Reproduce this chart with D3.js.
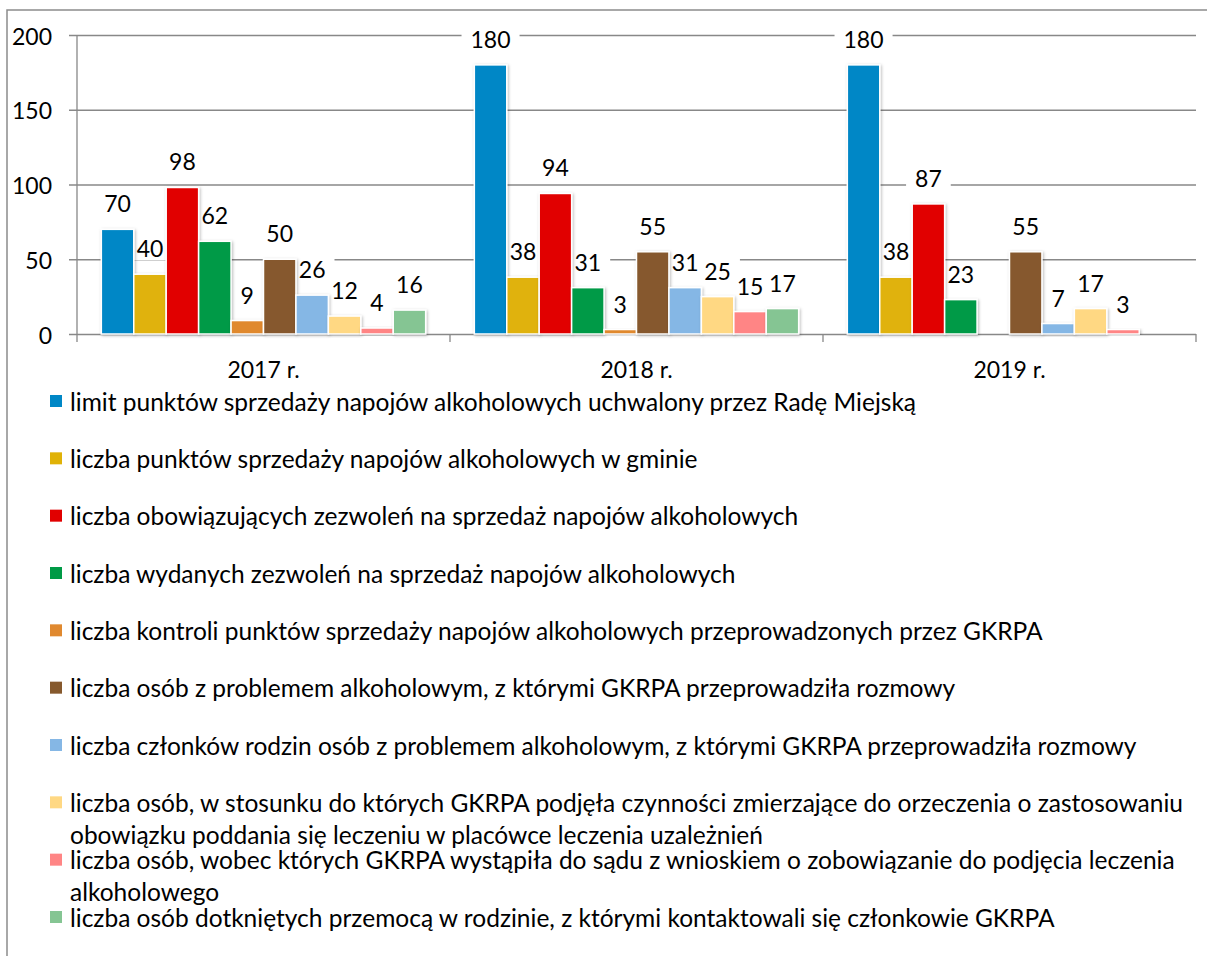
<!DOCTYPE html>
<html>
<head>
<meta charset="utf-8">
<title>GKRPA 2017-2019</title>
<script src="https://d3js.org/d3.v7.min.js"></script>
<style>
  body { margin: 0; background: #fff; }
  svg { display: block; font-family: Lato, "Open Sans", sans-serif; }
</style>
</head>
<body>
<div id="chart"></div>
<script>
// categories
var years = ["2017 r.", "2018 r.", "2019 r."];

// series names (\n marks where the original legend wraps)
var seriesNames = [
    "limit punktów sprzedaży napojów alkoholowych uchwalony przez Radę Miejską",
    "liczba punktów sprzedaży napojów alkoholowych w gminie",
    "liczba obowiązujących zezwoleń na sprzedaż napojów alkoholowych",
    "liczba wydanych zezwoleń na sprzedaż napojów alkoholowych",
    "liczba kontroli punktów sprzedaży napojów alkoholowych przeprowadzonych przez GKRPA",
    "liczba osób z problemem alkoholowym, z którymi GKRPA przeprowadziła rozmowy",
    "liczba członków rodzin osób z problemem alkoholowym, z którymi GKRPA przeprowadziła rozmowy",
    "liczba osób, w stosunku do których GKRPA podjęła czynności zmierzające do orzeczenia o zastosowaniu\nobowiązku poddania się leczeniu w placówce leczenia uzależnień",
    "liczba osób, wobec których GKRPA wystąpiła do sądu z wnioskiem o zobowiązanie do podjęcia leczenia\nalkoholowego",
    "liczba osób dotkniętych przemocą w rodzinie, z którymi kontaktowali się członkowie GKRPA"
];

// values per year, one entry per series (null = no bar)
var values2017 = [70, 40, 98, 62, 9, 50, 26, 12, 4, 16];
var values2018 = [180, 38, 94, 31, 3, 55, 31, 25, 15, 17];
var values2019 = [180, 38, 87, 23, null, 55, 7, 17, 3, null];

var colors = ["#0087c6", "#e0b207", "#e10000", "#009a46", "#e0892f",
              "#86592d", "#85b7e5", "#ffd883", "#ff8585", "#85c593"];

var yTicks = [0, 50, 100, 150, 200];

var valuesByYear = [values2017, values2018, values2019];

var W = 1207, H = 956;
var plot = {left: 77, right: 1196, top: 35, bottom: 334};
var fontSize = 23;
var legendFontSize = 24.5;
var gridColor = "#888888";

var svg = d3.select("#chart").append("svg")
    .attr("width", W)
    .attr("height", H);

var defs = svg.append("defs");
var shadow = defs.append("filter").attr("id", "shadow")
    .attr("x", "-20%").attr("y", "-20%").attr("width", "140%").attr("height", "140%");
shadow.append("feDropShadow")
    .attr("dx", 1).attr("dy", 1)
    .attr("stdDeviation", 1.4)
    .attr("flood-color", "#000")
    .attr("flood-opacity", 0.28);

// frame (only top and left edges visible)
svg.append("path")
    .attr("d", "M7," + H + "V10H" + W)
    .attr("fill", "none")
    .attr("stroke", "#8c8c8c")
    .attr("stroke-width", 1.5);

var x0 = d3.scaleBand()
    .domain(years)
    .range([plot.left, plot.right])
    .padding(0);

var x1 = d3.scaleBand()
    .domain(d3.range(seriesNames.length))
    .range([0, x0.bandwidth()])
    .paddingInner(0)
    .paddingOuter(0.75);

var y = d3.scaleLinear()
    .domain([0, 200])
    .range([plot.bottom, plot.top]);

// y axis with gridlines
var yAxis = svg.append("g")
    .attr("transform", "translate(" + plot.left + ",0)")
    .call(d3.axisLeft(y)
        .tickValues(yTicks)
        .tickSize(-(plot.right - plot.left))
        .tickPadding(25));
yAxis.select(".domain").remove();
yAxis.selectAll(".tick line")
    .attr("x1", -8)
    .attr("stroke", gridColor)
    .attr("stroke-width", 1.3);
yAxis.selectAll(".tick text")
    .attr("dy", null)
    .attr("dominant-baseline", "central")
    .style("font-size", fontSize + "px")
    .style("font-family", "Lato, sans-serif")
    .attr("fill", "#000");

svg.append("line")
    .attr("x1", plot.left).attr("x2", plot.left)
    .attr("y1", plot.top).attr("y2", plot.bottom + 8)
    .attr("stroke", gridColor)
    .attr("stroke-width", 1.3);

// x axis: labels centred, ticks on category boundaries
var xAxis = svg.append("g")
    .attr("transform", "translate(0," + plot.bottom + ")")
    .call(d3.axisBottom(x0).tickSize(0).tickPadding(0));
xAxis.select(".domain").remove();
xAxis.selectAll(".tick text")
    .attr("y", 35)
    .attr("dy", null)
    .attr("dominant-baseline", "central")
    .style("font-size", fontSize + "px")
    .style("font-family", "Lato, sans-serif")
    .attr("fill", "#000");

svg.append("g").selectAll("line")
    .data(years)
    .join("line")
        .attr("x1", function(d) { return x0(d) + x0.bandwidth(); })
        .attr("x2", function(d) { return x0(d) + x0.bandwidth(); })
        .attr("y1", plot.bottom)
        .attr("y2", plot.bottom + 8)
        .attr("stroke", gridColor)
        .attr("stroke-width", 1.3);

// flatten into points
var points = [];
seriesNames.forEach(function(name, s) {
    years.forEach(function(yr, i) {
        var v = valuesByYear[i][s];
        if (v != null) points.push({s: s, year: yr, value: v});
    });
});

function cx(d) { return x0(d.year) + x1(d.s) + x1.bandwidth() / 2; }
function ly(d) { return y(d.value) - 26; }

// label backgrounds hide the gridlines, but sit behind the bars
var bgLayer = svg.append("g");
var barLayer = svg.append("g");
var textLayer = svg.append("g");

barLayer.selectAll("rect")
    .data(points)
    .join("rect")
        .attr("x", function(d) { return x0(d.year) + x1(d.s); })
        .attr("y", function(d) { return y(d.value); })
        .attr("width", x1.bandwidth())
        .attr("height", function(d) { return y(0) - y(d.value); })
        .attr("fill", function(d) { return colors[d.s]; })
        .attr("stroke", "#fff")
        .attr("stroke-width", 1.5)
        .attr("filter", "url(#shadow)");

var txt = textLayer.selectAll("text")
    .data(points)
    .join("text")
        .attr("x", cx)
        .attr("y", ly)
        .attr("text-anchor", "middle")
        .attr("dominant-baseline", "central")
        .style("font-size", fontSize + "px")
        .attr("fill", "#000")
        .text(function(d) { return d.value; });

txt.each(function() {
    var b = this.getBBox();
    bgLayer.append("rect")
        .attr("x", b.x - 9)
        .attr("y", b.y + 2)
        .attr("width", b.width + 18)
        .attr("height", b.height - 4)
        .attr("fill", "#fff");
});

// legend
var ly2 = d3.scalePoint()
    .domain(d3.range(seriesNames.length))
    .range([401, 917]);

var legend = svg.append("g").selectAll("g")
    .data(seriesNames)
    .join("g")
        .attr("transform", function(d, i) { return "translate(50," + ly2(i) + ")"; });

legend.append("rect")
    .attr("x", 0)
    .attr("y", -6)
    .attr("width", 12)
    .attr("height", 12)
    .attr("fill", function(d, i) { return colors[i]; });

legend.append("text")
    .attr("x", 20)
    .style("font-size", legendFontSize + "px")
    .attr("fill", "#000")
    .each(function(d) {
        var t = d3.select(this);
        d.split("\n").forEach(function(line, k) {
            t.append("tspan")
                .attr("x", 20)
                .attr("y", k * 32)
                .attr("dominant-baseline", "central")
                .text(line);
        });
    });
</script>
</body>
</html>
